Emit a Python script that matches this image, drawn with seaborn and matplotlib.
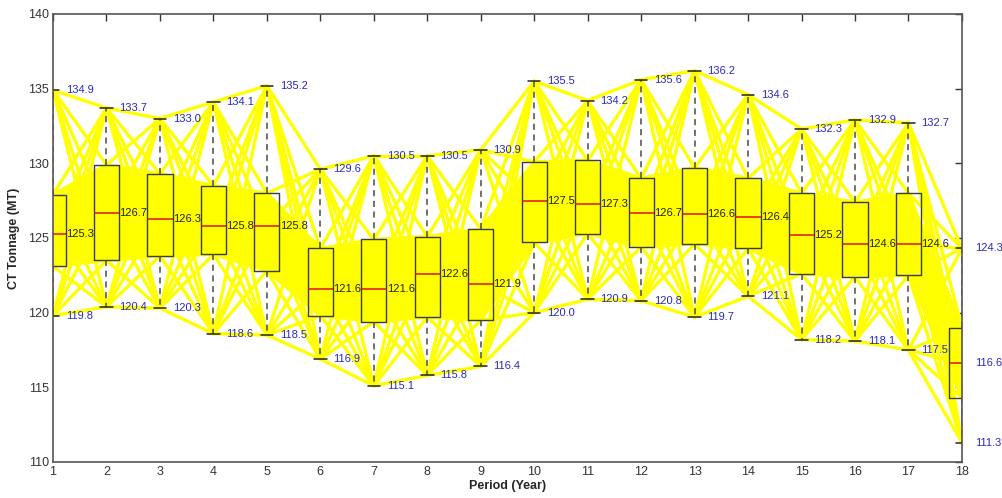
import numpy as np
import pandas as pd
import matplotlib
matplotlib.use("Agg")
import matplotlib.pyplot as plt
import seaborn as sns

# ---- data ----
periods = list(range(1, 19))
max_vals = [134.9, 133.7, 133.0, 134.1, 135.2, 129.6, 130.5, 130.5, 130.9,
            135.5, 134.2, 135.6, 136.2, 134.6, 132.3, 132.9, 132.7, 124.3]
q3_vals = [127.9, 129.9, 129.3, 128.5, 128.0, 124.3, 124.9, 125.1, 125.6,
           130.1, 130.2, 129.0, 129.7, 129.0, 128.0, 127.4, 128.0, 119.0]
med_vals = [125.3, 126.7, 126.3, 125.8, 125.8, 121.6, 121.6, 122.6, 121.9,
            127.5, 127.3, 126.7, 126.6, 126.4, 125.2, 124.6, 124.6, 116.6]
q1_vals = [123.1, 123.5, 123.8, 123.9, 122.8, 119.8, 119.4, 119.7, 119.5,
           124.7, 125.3, 124.4, 124.6, 124.3, 122.6, 122.4, 122.5, 114.3]
min_vals = [119.8, 120.4, 120.3, 118.6, 118.5, 116.9, 115.1, 115.8, 116.4,
            120.0, 120.9, 120.8, 119.7, 121.1, 118.2, 118.1, 117.5, 111.3]
x_ticks = list(range(1, 19))
y_ticks = [110, 115, 120, 125, 130, 135, 140]

sns.set_theme(style="white")
plt.rcParams["font.family"] = ["Liberation Sans", "DejaVu Sans"]

fig = plt.figure(figsize=(10.02, 4.98), dpi=100)
ax = fig.add_axes([0.0529, 0.0723, 0.9071, 0.8996])

levels = [min_vals, q1_vals, med_vals, q3_vals, max_vals]

# ---- yellow trajectory web (every stat level linked to every level of the next period) ----
rows = []
seg = 0
for i in range(len(periods) - 1):
    for a in levels:
        for b in levels:
            rows.append((seg, periods[i], a[i]))
            rows.append((seg, periods[i + 1], b[i + 1]))
            seg += 1
web = pd.DataFrame(rows, columns=["seg", "period", "value"])
ax.fill_between(periods, q1_vals, q3_vals, color="#ffff00", lw=0, zorder=1)
sns.lineplot(data=web, x="period", y="value", units="seg", estimator=None,
             color="#ffff00", lw=2.4, ax=ax, zorder=2, legend=False)

# ---- box plots from the five stats per period ----
box_rows = []
for i, p in enumerate(periods):
    for lv in levels:
        box_rows.append((p, lv[i]))
box_df = pd.DataFrame(box_rows, columns=["period", "value"])
sns.boxplot(data=box_df, x="period", y="value", native_scale=True, whis=np.inf,
            width=0.47, fill=False, color="#3a3a48", linewidth=1.0,
            medianprops=dict(color="#e01010", lw=1.1),
            whiskerprops=dict(linestyle=(0, (4, 3)), color="#4a4a4a", lw=1.1),
            capprops=dict(color="#222222", lw=1.1),
            ax=ax, zorder=3)

# ---- value labels ----
blue = "#2a2ab8"
for i, p in enumerate(periods):
    ax.text(p + 0.24, max_vals[i], f"{max_vals[i]:.1f}", color=blue, fontsize=8,
            va="center", ha="left", clip_on=False, zorder=5)
    ax.text(p + 0.24, min_vals[i], f"{min_vals[i]:.1f}", color=blue, fontsize=8,
            va="center", ha="left", clip_on=False, zorder=5)
    mcol = blue if p == periods[-1] else "#222222"
    ax.text(p + 0.24, med_vals[i], f"{med_vals[i]:.1f}", color=mcol, fontsize=8,
            va="center", ha="left", clip_on=False, zorder=5)

ax.set_xlim(1, 18)
ax.set_ylim(110, 140)
ax.set_xticks(x_ticks)
ax.set_xticklabels([str(t) for t in x_ticks])
ax.set_yticks(y_ticks)
ax.set_yticklabels([str(t) for t in y_ticks])
ax.tick_params(direction="in", length=5, width=1, colors="#333333",
               labelsize=9, top=True, right=True, pad=3)
for s in ax.spines.values():
    s.set_color("#555555")
    s.set_linewidth(1.2)
    s.set_zorder(6)
ax.set_xlabel("Period (Year)", fontsize=9, fontweight="bold", labelpad=1)
ax.set_ylabel("CT Tonnage (MT)", fontsize=9, fontweight="bold", labelpad=6)
ax.grid(False)

fig.savefig("out.png", dpi=100)
